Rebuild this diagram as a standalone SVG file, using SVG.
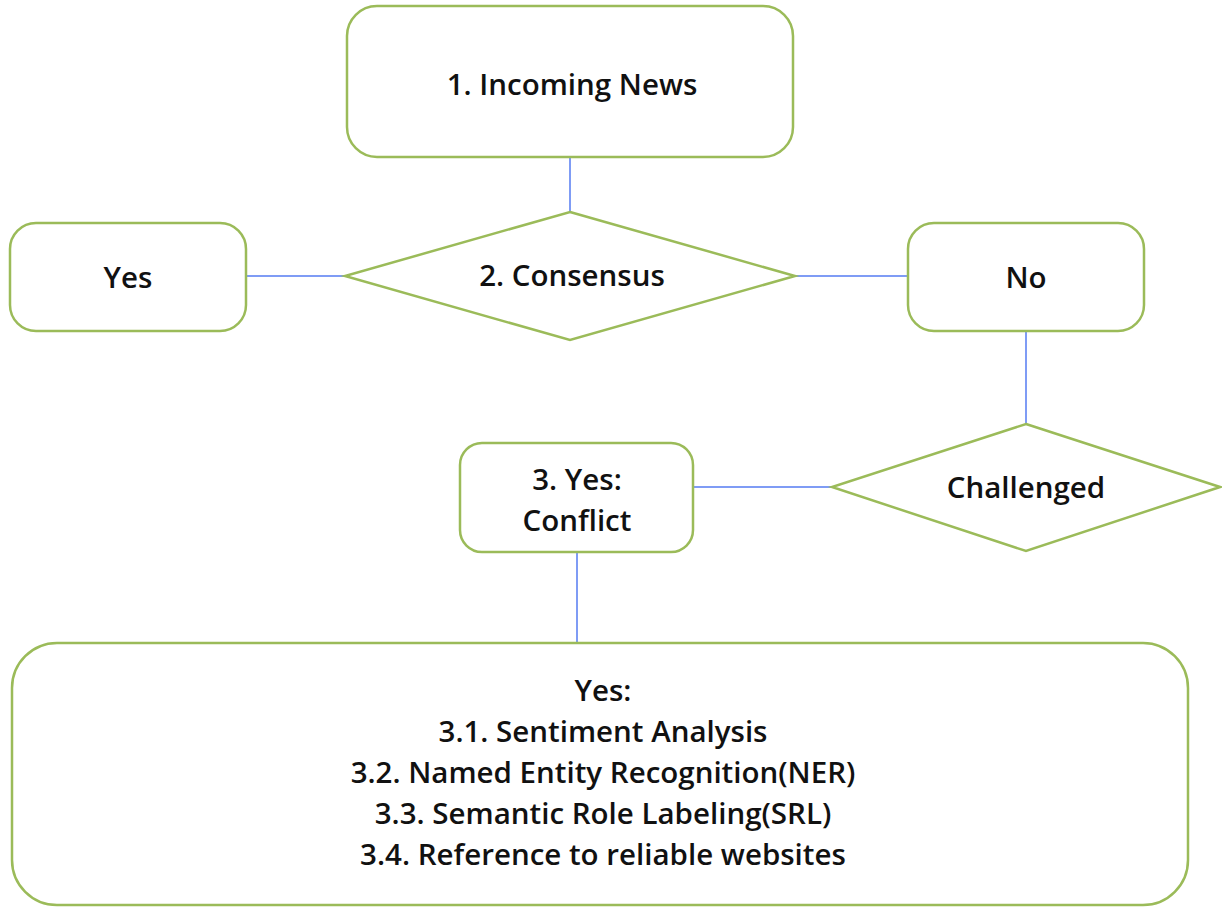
<svg xmlns="http://www.w3.org/2000/svg" width="1222" height="907" viewBox="0 0 1222 907">
<style>
.n{fill:#fff;stroke:#9bbb59;stroke-width:2.5}
.c{stroke:#7f9cf5;stroke-width:2;fill:none}
.t{font-family:"Open Sans","Liberation Sans",sans-serif;font-weight:600;font-size:29.5px;fill:#111;text-anchor:middle}
</style>
<rect width="1222" height="907" fill="#fff"/>
<g id="connectors">
<line class="c" x1="570" y1="157" x2="570" y2="212"/>
<line class="c" x1="246" y1="276" x2="345" y2="276"/>
<line class="c" x1="795" y1="276" x2="908" y2="276"/>
<line class="c" x1="1026" y1="331" x2="1026" y2="424"/>
<line class="c" x1="693" y1="487" x2="832" y2="487"/>
<line class="c" x1="577" y1="552" x2="577" y2="643"/>
</g>
<g id="incoming">
<rect class="n" x="347" y="6" width="446" height="151" rx="30"/>
<text class="t" x="572" y="95">1. Incoming News</text>
</g>
<g id="consensus">
<polygon class="n" points="570,212 795,276 570,340 345,276"/>
<text class="t" x="572" y="286">2. Consensus</text>
</g>
<g id="yes">
<rect class="n" x="10" y="223" width="236" height="108" rx="26"/>
<text class="t" x="128" y="288">Yes</text>
</g>
<g id="no">
<rect class="n" x="908" y="223" width="236" height="108" rx="26"/>
<text class="t" x="1026" y="288">No</text>
</g>
<g id="challenged">
<polygon class="n" points="1026,424 1220,487 1026,551 832,487"/>
<text class="t" x="1026" y="498">Challenged</text>
</g>
<g id="conflict">
<rect class="n" x="460" y="443" width="233" height="109" rx="22"/>
<text class="t" x="577" y="490">3. Yes:</text>
<text class="t" x="577" y="531">Conflict</text>
</g>
<g id="methods">
<rect class="n" x="12" y="643" width="1176" height="262" rx="45"/>
<text class="t" x="603" y="701">Yes:</text>
<text class="t" x="603" y="742">3.1. Sentiment Analysis</text>
<text class="t" x="603" y="783">3.2. Named Entity Recognition(NER)</text>
<text class="t" x="603" y="824">3.3. Semantic Role Labeling(SRL)</text>
<text class="t" x="603" y="865">3.4. Reference to reliable websites</text>
</g>
</svg>
